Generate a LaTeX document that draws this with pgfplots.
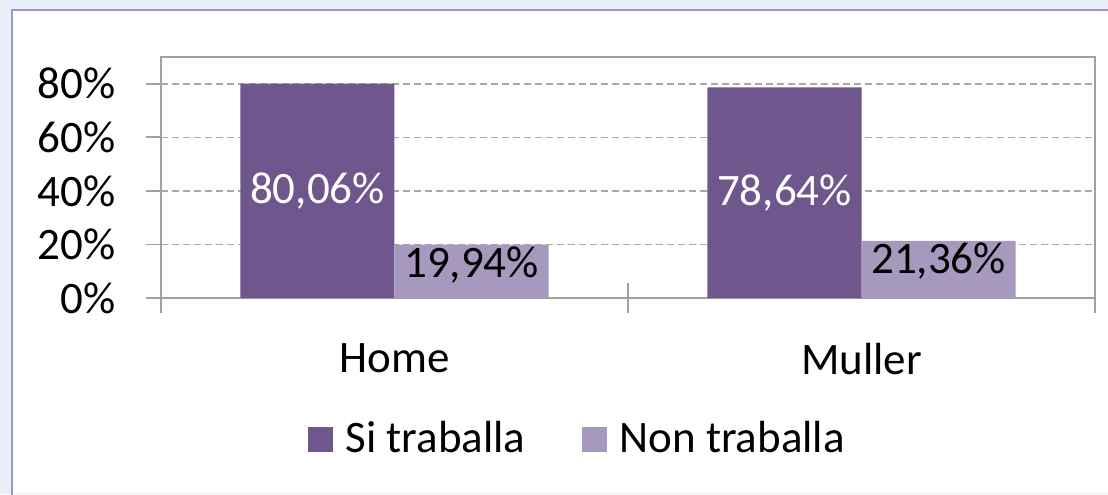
\documentclass[border=0pt]{standalone}
\usepackage{pgfplots}
\pgfplotsset{compat=1.18}
\usepackage{fontspec}
\setmainfont{Carlito}
\definecolor{bgblue}{HTML}{E9EEF8}
\definecolor{framec}{HTML}{A292D2}
\definecolor{siC}{HTML}{6F578E}
\definecolor{nonC}{HTML}{A798BE}
\definecolor{axisgray}{HTML}{A0A0A0}
\definecolor{gridgray}{HTML}{A8A8A8}
\begin{document}
\fontsize{22.5}{27}\selectfont
\begin{tikzpicture}
\path[use as bounding box, fill=bgblue] (-80.5pt,-98pt) rectangle (473.5pt,149pt);
\fill[white] (-74.5pt,-97.5pt) rectangle (480pt,144pt);
\draw[framec, line width=0.6pt] (-74.5pt,-100pt) -- (-74.5pt,144pt) -- (480pt,144pt);
\begin{axis}[
  at={(0,0)}, anchor=south west,
  scale only axis, width=467pt, height=120.5pt,
  ymin=0, ymax=90, xmin=-0.5, xmax=1.5,
  axis line style={draw=axisgray, line width=0.9pt},
  tick align=outside, major tick length=7.5pt,
  xtick pos=bottom, ytick pos=left,
  tick style={draw=axisgray, line width=0.9pt},
  ytick={0,20,40,60,80},
  yticklabels={0\%,20\%,40\%,60\%,80\%},
  yticklabel style={anchor=east, inner sep=0pt, xshift=-15pt, font=\fontsize{22.5}{27}\selectfont},
  xtick={-0.5,0.5,1.5}, xticklabels={Home,Muller,{}},
  xticklabel style={anchor=north, inner sep=0pt, xshift=116.75pt, yshift=-15pt, font=\fontsize{22.5}{27}\selectfont},
  extra x ticks={0.5}, extra x tick labels={},
  extra x tick style={tick align=center, major tick length=15pt, xtick pos=bottom},
  ymajorgrids,
  major grid style={draw=gridgray, dash pattern=on 3.5pt off 2pt, line width=0.8pt},
  ybar=0pt, bar width=0.33,
  legend image code/.code={\fill[#1] (0pt,-6.25pt) rectangle (12.5pt,6.25pt);},
  legend style={draw=none, fill=none, at={(axis description cs:0.445,-0.589)}, anchor=center,
    legend columns=2, font=\fontsize{22.5}{27}\selectfont, inner sep=0pt,
    nodes={inner sep=0pt},
    /tikz/every odd column/.append style={column sep=6pt},
    /tikz/every even column/.append style={column sep=28.5pt}},
  point meta=explicit symbolic,
  nodes near coords,
  visualization depends on={y \as \rawy},
]
\addplot[fill=siC, draw=none, bar shift=-0.165,
  every node near coord/.append style={white, anchor=center, font=\fontsize{22.5}{27}\selectfont,
    shift={(axis direction cs:0,-\rawy/2)}}]
  coordinates {(0,80.06) [80,06\%] (1,78.64) [78,64\%]};
\addlegendentry{Si traballa}
\addplot[fill=nonC, draw=none, bar shift=0.165,
  every node near coord/.append style={black, anchor=north, inner sep=0pt, yshift=-1pt, font=\fontsize{22.5}{27}\selectfont}]
  coordinates {(0,19.94) [19,94\%] (1,21.36) [21,36\%]};
\addlegendentry{Non traballa}
\end{axis}
\end{tikzpicture}
\end{document}
